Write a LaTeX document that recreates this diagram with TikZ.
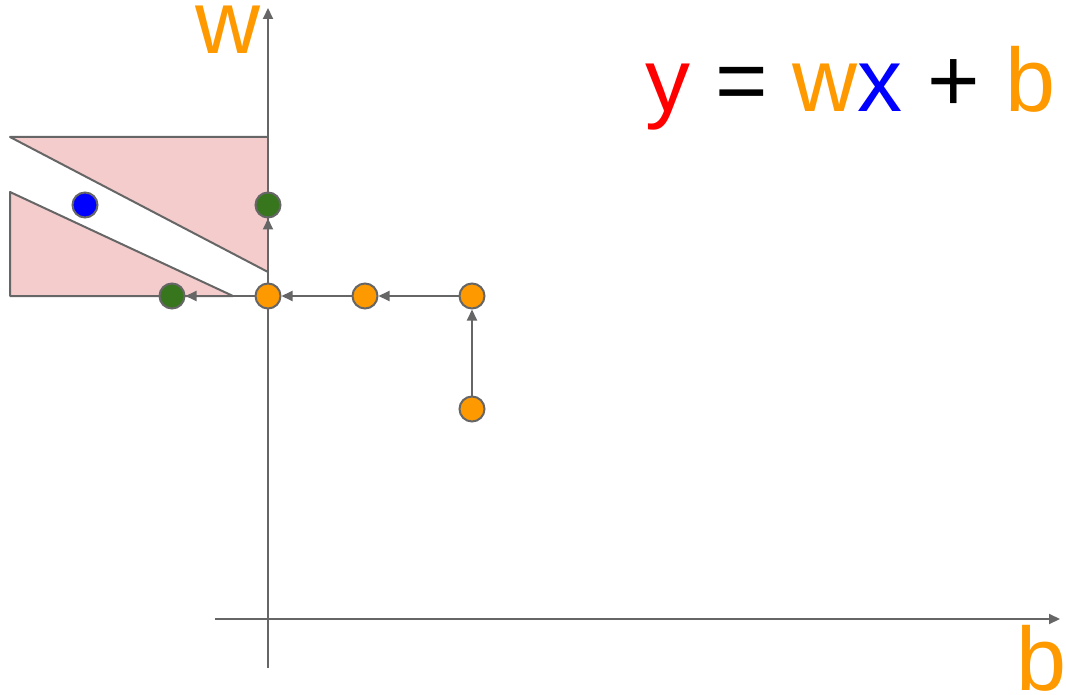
\documentclass[tikz,border=0pt]{standalone}
\usepackage{fontspec}
\setmainfont{Liberation Sans}
\usetikzlibrary{arrows.meta}
\definecolor{lineGray}{RGB}{102, 102, 102}
\definecolor{regionPink}{RGB}{244, 204, 204}
\definecolor{paramOrange}{RGB}{255, 153, 0}
\definecolor{stepGreen}{RGB}{56, 118, 29}
\definecolor{inputBlue}{RGB}{0, 0, 255}
\definecolor{outputRed}{RGB}{255, 0, 0}

\begin{document}
\begin{tikzpicture}[x=1pt, y=-1pt,
    dot/.style={circle, draw=lineGray, line width=2pt, minimum size=25pt, inner sep=0pt},
    move/.style={lineGray, line width=2pt, -{Triangle[length=11pt, width=10pt]}},
    edge/.style={lineGray, line width=2pt, line join=round},
    big/.style={font=\fontsize{90}{90}\selectfont, inner sep=0pt, anchor=base west}]
        \useasboundingbox (0,0) rectangle (1066,695);
        % regions
        \fill[regionPink] (10,137) -- (268,137) -- (268,272) -- cycle;
        \fill[regionPink] (10,192) -- (233,296) -- (10,296) -- cycle;
        \draw[edge] (268,272) -- (10,137) -- (268,137);
        \draw[edge] (233,296) -- (10,192) -- (10,296) -- cycle;
        % axes
        \coordinate (wbot) at (268,668);
        \coordinate (wtop) at (268,8);
        \coordinate (bleft) at (215,619);
        \coordinate (bright) at (1060,619);
        \draw[move] (wbot) -- (wtop);
        \draw[move] (bleft) -- (bright);
        \node[big, text=paramOrange] (wlabel) at (195,54) {w};
        \node[big, text=paramOrange] (blabel) at (1016,690) {b};
        \node[big] (rule) at (645,112) {{\color{outputRed}y} = {\color{paramOrange}w}{\color{inputBlue}x} + {\color{paramOrange}b}};
        % steps
        \node[dot, fill=paramOrange] (start) at (472,409) {};
        \node[dot, fill=paramOrange] (s1) at (472,296) {};
        \node[dot, fill=paramOrange] (s2) at (365,296) {};
        \node[dot, fill=paramOrange] (s3) at (268,296) {};
        \node[dot, fill=stepGreen] (gw) at (268,205) {};
        \node[dot, fill=stepGreen] (gb) at (172,296) {};
        \node[dot, fill=inputBlue] (xin) at (85,205) {};
        \draw[move] (start) -- (s1);
        \draw[move] (s1) -- (s2);
        \draw[move] (s2) -- (s3);
        \draw[move] (s3) -- (gb);
        \draw[move] (s3) -- (gw);
\end{tikzpicture}
\end{document}
